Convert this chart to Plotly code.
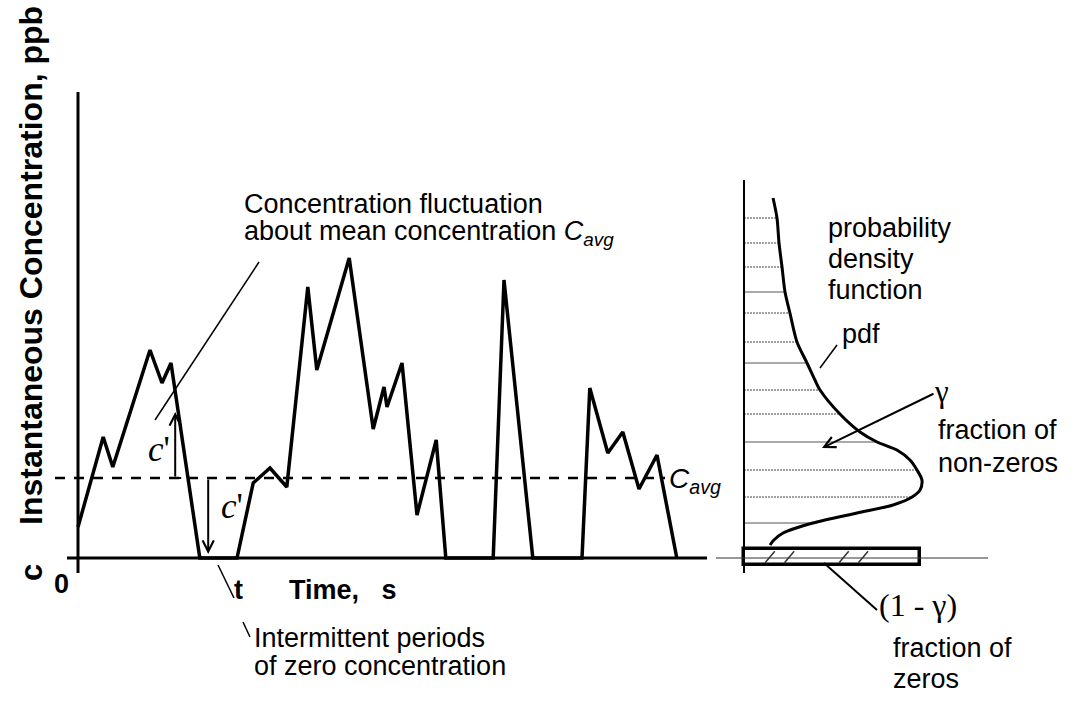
import numpy as np
import plotly.graph_objects as go

# ---- data -------------------------------------------------------------
# Instantaneous concentration trace (schematic)
time_s = [0, 4.2, 5.8, 12, 14, 15.5, 20.3, 26.5, 29.2, 32, 34.8, 38.3, 39.8,
          45.2, 49.2, 51, 51.5, 54, 56.5, 59.7, 61.3, 69.2, 71, 75.8, 84,
          85.3, 88.3, 90.8, 93.5, 96.5, 99.8]
conc_ppb = [7.75, 30.25, 22.75, 52, 43.75, 48.75, 0, 0, 18.75, 22.5, 17.75,
            67.75, 47, 75, 32.25, 42.75, 37.75, 48.75, 10.75, 29.5, 0, 0,
            69.5, 0, 0, 42.5, 26.25, 31.5, 17.25, 25.75, 0]
c_avg = 20.0

# Fluctuation arrows: (time, concentration at tip)
up_arrow = (16.2, 36.5)
down_arrow = (21.7, 1.0)

# Probability density of non-zero concentrations
pdf_conc = [90, 85, 78.75, 72.75, 66.5, 61.25, 54, 48.75, 44.5, 42, 36, 31.5,
            29, 27, 24.5, 22, 19.5, 17, 15.25, 13.25, 11.25, 8.75, 6.25, 4.5,
            3.25]
pdf_val = [0.165, 0.1875, 0.199, 0.216, 0.233, 0.261, 0.301, 0.358, 0.403,
           0.432, 0.545, 0.659, 0.756, 0.869, 0.943, 0.983, 1.011, 1.0, 0.955,
           0.847, 0.642, 0.392, 0.222, 0.17, 0.148]
# Concentration levels of the horizontal hatching under the pdf
hatch_dotted = [85, 78.75, 72.75, 61.25, 54, 42, 36, 22, 15.25]
hatch_solid = [66.5, 48.75, 29, 8.75]
# Probability mass at zero concentration
zero_mass = 1.0

# ---- geometry ---------------------------------------------------------
W, H = 1079, 712
T0_PX, PX_PER_S = 78, 6.0        # time axis origin / scale
C0_PX, PX_PER_PPB = 558, 4.0     # concentration origin / scale
P0_PX, PX_PER_P = 744, 176.0     # pdf axis origin / scale

SANS = "Liberation Sans, Arial, sans-serif"
SERIF = "Liberation Serif, Times New Roman, serif"
TXT = 27


def pxx(x):
    return x / W


def pxy(y):
    return 1 - y / H


def t_of(px):
    return (px - T0_PX) / PX_PER_S


def c_of(py):
    return (C0_PX - py) / PX_PER_PPB


def p_of(px):
    return (px - P0_PX) / PX_PER_P


fig = go.Figure()

# time-series trace
fig.add_trace(go.Scatter(x=time_s, y=conc_ppb, mode="lines",
                         line=dict(color="black", width=3.5),
                         hoverinfo="skip"))

# pdf hatching (from axis to the curve)
pdf_c_sorted = np.array(pdf_conc[::-1])
pdf_v_sorted = np.array(pdf_val[::-1])


def hatch_xy(levels):
    xs, ys = [], []
    for c in levels:
        xs += [0, float(np.interp(c, pdf_c_sorted, pdf_v_sorted)), None]
        ys += [c, c, None]
    return xs, ys


hx, hy = hatch_xy(hatch_dotted)
fig.add_trace(go.Scatter(x=hx, y=hy, xaxis="x2", mode="lines",
                         line=dict(color="#444", width=1, dash="2px,1px"),
                         hoverinfo="skip"))
hx, hy = hatch_xy(hatch_solid)
fig.add_trace(go.Scatter(x=hx, y=hy, xaxis="x2", mode="lines",
                         line=dict(color="#555", width=1),
                         hoverinfo="skip"))

# pdf curve
fig.add_trace(go.Scatter(x=pdf_val, y=pdf_conc, xaxis="x2", mode="lines",
                         line=dict(color="black", width=3, shape="spline",
                                   smoothing=0.8),
                         hoverinfo="skip"))

# zero-concentration bar
fig.add_trace(go.Bar(x=[zero_mass], y=[0.25], base=0, orientation="h",
                     width=4.0, xaxis="x2",
                     marker=dict(color="white",
                                 line=dict(color="black", width=3.5)),
                     hoverinfo="skip"))
stroke_x, stroke_y = [], []
for s in [0.12, 0.23, 0.54, 0.65]:
    stroke_x += [s, s + 0.055, None]
    stroke_y += [-1.2, 1.7, None]
fig.add_trace(go.Scatter(x=stroke_x, y=stroke_y, xaxis="x2", mode="lines",
                         line=dict(color="#333", width=1.5),
                         hoverinfo="skip"))

shapes = []
# left axes
shapes.append(dict(type="line", xref="x", yref="y", x0=0, x1=0,
                   y0=c_of(573), y1=c_of(92),
                   line=dict(color="black", width=3)))
shapes.append(dict(type="line", xref="x", yref="y", x0=t_of(67),
                   x1=t_of(707), y0=0, y1=0,
                   line=dict(color="black", width=3)))
# mean concentration
shapes.append(dict(type="line", xref="x", yref="y", x0=t_of(55),
                   x1=t_of(665), y0=c_avg, y1=c_avg,
                   line=dict(color="black", width=2.5, dash="10px,9px")))
# step joining the upward fluctuation arrow to the mean line
shapes.append(dict(type="line", xref="x", yref="y", x0=up_arrow[0],
                   x1=up_arrow[0] + 1, y0=c_avg, y1=c_avg,
                   line=dict(color="black", width=2)))
# right axes
shapes.append(dict(type="line", xref="x2", yref="y", x0=0, x1=0,
                   y0=c_of(573), y1=c_of(180),
                   line=dict(color="black", width=2)))
shapes.append(dict(type="line", xref="x2", yref="y", x0=p_of(716),
                   x1=p_of(988), y0=0, y1=0,
                   line=dict(color="#333", width=1.2)))


def leader(x0, y0, x1, y1, w=1.5):
    shapes.append(dict(type="line", xref="paper", yref="paper",
                       x0=pxx(x0), y0=pxy(y0), x1=pxx(x1), y1=pxy(y1),
                       line=dict(color="black", width=w)))


leader(259, 262, 155, 420)
leader(218, 565, 234, 598)
leader(243, 622, 250, 637)
leader(820, 368, 837, 345)
leader(824, 563, 877, 610, 2)

ann = []


def text(x, y, s, size=TXT, font=SANS, anchor="left", bold=False,
         angle=0, yanchor="middle"):
    if bold:
        s = "<b>" + s + "</b>"
    ann.append(dict(x=pxx(x), y=pxy(y), xref="paper", yref="paper",
                    text=s, showarrow=False, xanchor=anchor,
                    yanchor=yanchor, textangle=angle,
                    font=dict(family=font, size=size, color="black")))


# axis titles
text(31, 266, "Instantaneous Concentration, ppb", size=32, bold=True,
     anchor="center", angle=-90)
text(31, 572, "c", size=31, bold=True, anchor="center", angle=-90)
text(62, 584, "0", size=27, bold=True, anchor="center")
text(232, 590, "t", size=27, bold=True)
text(287, 590, "Time,&nbsp;&nbsp;&nbsp;s", size=27, bold=True)

# descriptive labels
text(242, 204, "Concentration fluctuation")
text(242, 233, "about mean concentration <i>C<sub>avg</sub></i>")
text(667, 480, "<i>C<sub>avg</sub></i>", size=28)
text(252, 638, "Intermittent periods")
text(252, 666, "of zero concentration")
text(146, 449, "<i>c</i>'", size=35, font=SERIF)
text(219, 506, "<i>c</i>'", size=35, font=SERIF)

text(826, 228, "probability")
text(826, 259, "density")
text(826, 290, "function")
text(840, 334, "pdf")
text(932, 391, "γ", size=31, font=SERIF)
text(936, 430, "fraction of")
text(936, 463, "non-zeros")
text(877, 605, "(1 - γ)", size=32, font=SERIF)
text(891, 648, "fraction of")
text(891, 679, "zeros")

# fluctuation arrows
for (t, c) in [up_arrow, down_arrow]:
    ann.append(dict(x=t, y=c, xref="x", yref="y", ax=t, ay=c_avg,
                    axref="x", ayref="y", text="", showarrow=True,
                    arrowhead=5, arrowsize=1.1, arrowwidth=2,
                    arrowcolor="black"))
# gamma arrow
ann.append(dict(x=pxx(822), y=pxy(448), xref="paper", yref="paper",
                ax=935 - 822, ay=393 - 448, text="", showarrow=True,
                arrowhead=5, arrowsize=1.1, arrowwidth=2,
                arrowcolor="black"))

fig.update_layout(
    width=W, height=H,
    margin=dict(l=0, r=0, t=0, b=0),
    paper_bgcolor="white", plot_bgcolor="white",
    showlegend=False,
    xaxis=dict(range=[t_of(0), t_of(W)], visible=False, domain=[0, 1],
               fixedrange=True),
    xaxis2=dict(range=[p_of(0), p_of(W)], visible=False, overlaying="x",
                anchor="y", fixedrange=True),
    yaxis=dict(range=[c_of(H), c_of(0)], visible=False, domain=[0, 1],
               fixedrange=True),
    shapes=shapes,
    annotations=ann,
    bargap=0,
)

fig.write_html("out.html")
